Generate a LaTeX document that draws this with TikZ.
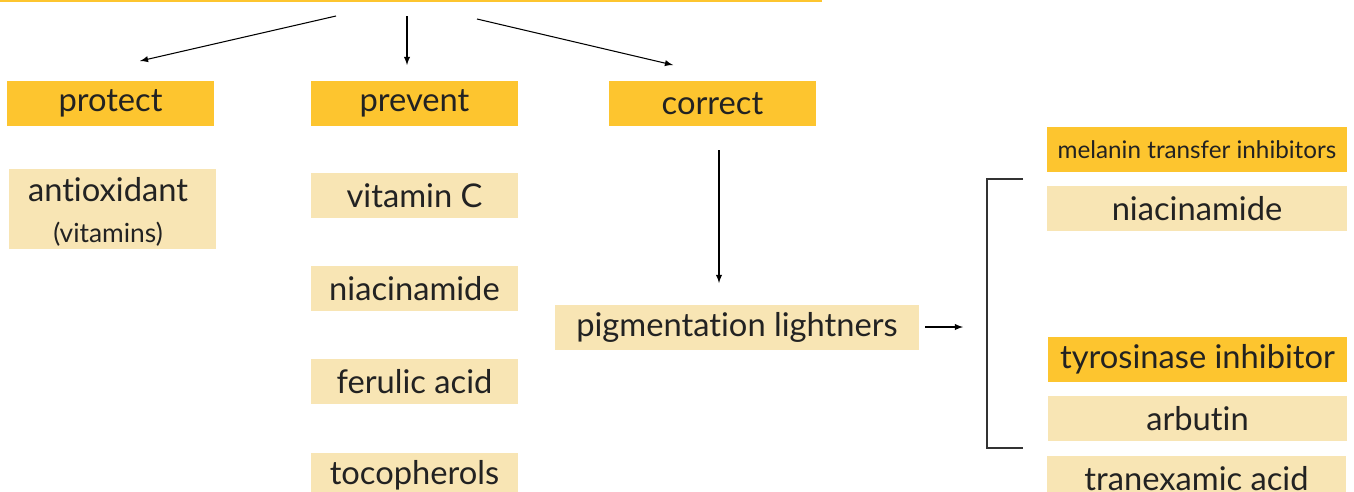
\documentclass[tikz,border=0pt]{standalone}
\usepackage{fontspec}
\setmainfont[Ligatures=NoCommon]{Lato}
\usepackage{tikz}
\usetikzlibrary{arrows}

\definecolor{hdyellow}{HTML}{FDC52F}
\definecolor{itemyellow}{HTML}{F8E5B4}
\definecolor{txtgray}{HTML}{222222}

\tikzset{
  hdbox/.style={fill=hdyellow, text=txtgray, minimum height=45*0.02cm,
    inner sep=0pt, font=\fontsize{18.6}{20}\selectfont},
  itembox/.style={fill=itemyellow, text=txtgray, minimum height=45*0.02cm,
    inner sep=0pt, font=\fontsize{18.6}{20}\selectfont},
  link/.style={-latex, draw=black, line width=0.6pt}
}

\begin{document}
\begin{tikzpicture}[x=0.02cm, y=-0.02cm]

    \clip (0,0) rectangle (1354,491);
    \useasboundingbox (0,0) rectangle (1354,491);

    % top bar (cut off)
    \fill[hdyellow] (0,-20) rectangle (822,2);
    \coordinate (topl) at (336,16);
    \coordinate (topm) at (407,16);
    \coordinate (topr) at (477,19);
    \coordinate (protin) at (140,61);
    \coordinate (previn) at (407,65);
    \coordinate (corrin) at (673,65);

    % headings
    \node[hdbox, minimum width=207*0.02cm] (protect) at (110.5,103.5) {protect};
    \node[hdbox, minimum width=207*0.02cm] (prevent) at (414.5,103.5) {prevent};
    \node[hdbox, minimum width=207*0.02cm] (correct) at (712.5,103.5) {correct};

    % protect column
    \fill[itemyellow] (9,169) rectangle (216,249);
    \node[text=txtgray, align=center, inner sep=0pt,
      font=\fontsize{18.6}{20}\selectfont] (antiox) at (108,212)
      {antioxidant\\[3pt]{\fontsize{15}{16}\selectfont (vitamins)}};

    % prevent column
    \node[itembox, minimum width=207*0.02cm] (vitc) at (414.5,195.5) {vitamin C};
    \node[itembox, minimum width=207*0.02cm] (niac) at (414.5,288.5) {niacinamide};
    \node[itembox, minimum width=207*0.02cm] (ferul) at (414.5,381.5) {ferulic acid};
    \node[itembox, minimum width=207*0.02cm] (tocoph) at (414.5,475.5) {tocopherols};

    % correct column
    \coordinate (corrout) at (719,150);
    \coordinate (pigmin) at (719,283);
    \node[itembox, minimum width=364*0.02cm] (pigm) at (737,327.5) {pigmentation lightners};
    \coordinate (pigmout) at (925,327);
    \coordinate (brk) at (963,327);

    % right column
    \node[hdbox, minimum width=300*0.02cm,
      font=\fontsize{13.8}{15}\selectfont] (melanin) at (1197,149.5) {melanin transfer inhibitors};
    \node[itembox, minimum width=300*0.02cm] (niacr) at (1197,208.5) {niacinamide};
    \node[hdbox, minimum width=299*0.02cm] (tyros) at (1197.5,359.5) {tyrosinase inhibitor};
    \node[itembox, minimum width=299*0.02cm] (arbutin) at (1197.5,418.5) {arbutin};
    \node[itembox, minimum width=299*0.02cm] (tranex) at (1196.5,478.5) {tranexamic acid};

    % bracket
    \draw[draw=black!80, line width=0.6pt] (1023,179) -- (987,179) -- (987,448) -- (1023,448);

    % edges
    \draw[link] (topl) -- (protin);
    \draw[link] (topm) -- (previn);
    \draw[link] (topr) -- (corrin);
    \draw[link] (corrout) -- (pigmin);
    \draw[link] (pigmout) -- (brk);

  \end{tikzpicture}
\end{document}
